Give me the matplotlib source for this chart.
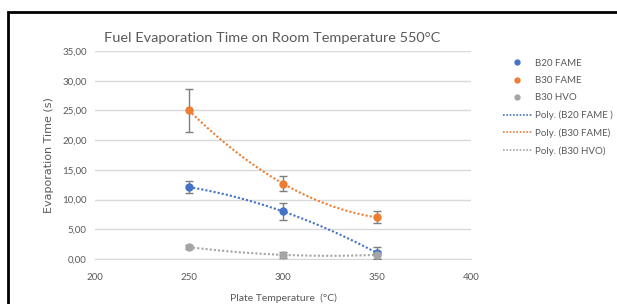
import numpy as np
import matplotlib.pyplot as plt
from matplotlib.lines import Line2D
from matplotlib.patches import Rectangle

font = 'Lato'

# data
temps = [250, 300, 350]
b20_fame = [12.1, 8.0, 1.0]
b20_err = [1.0, 1.4, 1.0]
b30_fame = [25.0, 12.7, 7.0]
b30_err = [3.6, 1.2, 1.0]
b30_hvo = [2.0, 0.7, 0.7]
hvo_err = [0.3, 0.5, 0.7]

blue = '#4472c4'
orange = '#ed7d31'
grey = '#a5a5a5'
txt = '#595959'

fig = plt.figure(figsize=(6.17, 3.04), dpi=100)
ax = fig.add_axes([95 / 617, 1 - 259 / 304, (471 - 95) / 617, (259 - 51) / 304])

xs = np.linspace(250, 350, 100)
series = [(b20_fame, b20_err, blue), (b30_fame, b30_err, orange), (b30_hvo, hvo_err, grey)]
for vals, err, col in series:
    p = np.polyfit(temps, vals, 2)
    ax.plot(xs, np.polyval(p, xs), ls=(0, (1, 1)), lw=1.5, color=col, zorder=2)
    ax.errorbar(temps, vals, yerr=err, fmt='o', color=col, ms=5, ecolor='#7f7f7f',
                elinewidth=1, capsize=3, capthick=1, zorder=3)

ax.set_xlim(200, 400)
ax.set_ylim(0, 35)
ax.set_xticks([200, 250, 300, 350, 400])
ax.set_yticks(np.arange(0, 36, 5))
ax.set_yticklabels([f'{v:.2f}'.replace('.', ',') for v in np.arange(0, 36, 5)])
ax.grid(axis='y', color='#d9d9d9', lw=1)
ax.set_axisbelow(True)
for s in ['top', 'right', 'left']:
    ax.spines[s].set_visible(False)
ax.spines['bottom'].set_color('#d9d9d9')
ax.tick_params(length=0, colors=txt, labelsize=7)
ax.tick_params(axis='y', pad=6)
ax.tick_params(axis='x', pad=10)
for lab in ax.get_xticklabels() + ax.get_yticklabels():
    lab.set_fontfamily(font)

ax.set_xlabel('Plate Temperature  (°C)', fontsize=7.5, color=txt, family=font, labelpad=8)
ax.set_ylabel('Evaporation Time (s)', fontsize=8, color=txt, labelpad=6)
title = fig.text(272 / 617, 1 - 38 / 304, 'Fuel Evaporation Time on Room Temperature 550°C',
                 ha='center', va='center', fontsize=12, color=txt, family=font)
# scale the title so it spans the same width as in the reference
fig.canvas.draw()
w = title.get_window_extent().width
title.set_fontsize(12 * 334 / w)

handles = [
    Line2D([], [], ls='none', marker='o', ms=3.5, color=blue),
    Line2D([], [], ls='none', marker='o', ms=3.5, color=orange),
    Line2D([], [], ls='none', marker='o', ms=3.5, color=grey),
    Line2D([], [], ls=(0, (1, 1)), lw=1.2, color=blue),
    Line2D([], [], ls=(0, (1, 1)), lw=1.2, color=orange),
    Line2D([], [], ls=(0, (1, 1)), lw=1.2, color=grey),
]
labels = ['B20 FAME', 'B30 FAME', 'B30 HVO', 'Poly. (B20 FAME )', 'Poly. (B30 FAME)', 'Poly. (B30 HVO)']
leg = fig.legend(handles, labels, loc='upper left', bbox_to_anchor=(494 / 617, 1 - 50 / 304),
                 frameon=False, prop={'family': font, 'size': 7}, labelcolor=txt,
                 handlelength=3, labelspacing=0.85, handletextpad=0.3)

# chart frame (cropped at right and bottom)
fig.add_artist(Rectangle((8 / 617, -0.1), 1.2, 1.1 - 12 / 304, transform=fig.transFigure,
                         fill=False, ec='black', lw=2))

fig.savefig('out.png', dpi=100)
